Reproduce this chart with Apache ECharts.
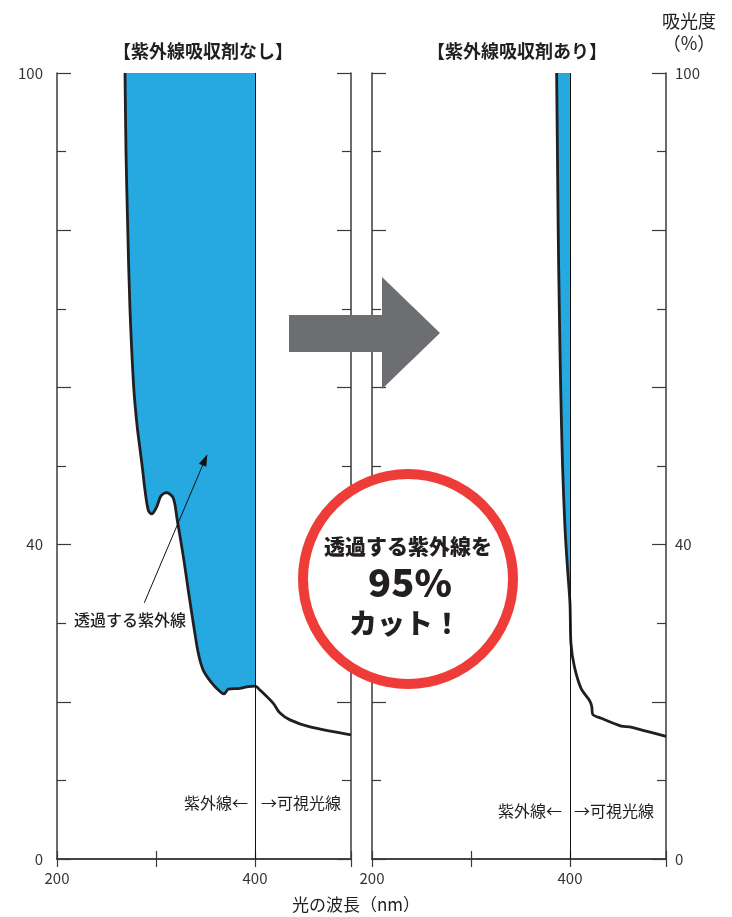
<!DOCTYPE html>
<html>
<head>
<meta charset="utf-8">
<script src="https://cdn.jsdelivr.net/npm/echarts@6/dist/echarts.min.js"></script>
<style>
html,body{margin:0;padding:0;background:#fff;}
#c{width:732px;height:917px;}
</style>
</head>
<body>
<div id="c"></div>
<script>
// ---- data ----
const leftWave = [268.7, 269.7, 271.5, 273.7, 277.5, 281, 284, 286.5, 288.9, 292.2, 295.6, 300.7, 305, 310.8, 317.5, 321.5, 327.6, 332.6, 337.7, 342.7, 347.8, 356.3, 364.6, 368.7, 373.1, 384.8, 391.6, 400, 405, 418.5, 425, 435.4, 455.6, 497];
const leftAbs  = [100, 90, 80, 70, 60, 55, 52, 49.5, 46.9, 44.4, 43.9, 44.8, 46.2, 46.6, 45.9, 43.1, 38.5, 34.2, 30.0, 26.2, 24.0, 22.4, 21.3, 21.0, 21.6, 21.7, 21.9, 22.0, 21.5, 19.8, 18.6, 17.7, 16.8, 15.8];
const rightWave = [386.5, 387.3, 388.1, 389.2, 390.6, 392.5, 395, 397.5, 400, 401, 404.4, 411.2, 419.6, 422.0, 423.0, 431.5, 451.8, 460.2, 478.9, 497];
const rightAbs  = [100, 90, 80, 70, 60, 50, 42, 37, 32.5, 27.4, 24.5, 21.7, 20.2, 19.4, 18.4, 17.9, 16.9, 16.8, 16.2, 15.6];
const xTickLabels = [200, 400];
const yTickLabels = [0, 40, 100];
const boundaryNm = 400;

const FONT = '"Noto Sans CJK JP", "Noto Sans", sans-serif';
const AX = '#3a3a3a';
const BLUE = '#26A8E0';
const LINE = '#231F20';

function pairs(w, a, maxX) {
  const out = [];
  for (let i = 0; i < w.length; i++) if (maxX === undefined || w[i] <= maxX) out.push([w[i], a[i]]);
  return out;
}

function xAxes(gridIndex) {
  const base = {
    type: 'value', gridIndex: gridIndex, min: 200, max: 497, interval: 100,
    splitLine: {show: false},
    axisLine: {show: true, lineStyle: {color: AX, width: 1.5}},
    axisTick: {show: true, inside: true, length: 8, lineStyle: {color: AX, width: 1.2}}
  };
  return [
    Object.assign({}, base, {position: 'bottom',
      axisLabel: {show: true, margin: 12, fontSize: 15, color: '#333', fontFamily: FONT,
        formatter: v => xTickLabels.indexOf(v) >= 0 ? String(v) : ''}}),
    Object.assign({}, base, {position: 'top', axisLabel: {show: false}})
  ];
}
function yAxes(gridIndex, labelSide) {
  const base = {
    type: 'value', gridIndex: gridIndex, min: 0, max: 100, interval: 20,
    splitLine: {show: false},
    axisLine: {show: true, lineStyle: {color: AX, width: 1.5}},
    axisTick: {show: true, inside: true, length: 14, lineStyle: {color: AX, width: 1.2}},
    minorTick: {show: true, splitNumber: 2, length: 9, lineStyle: {color: AX, width: 1.2}},
    minorSplitLine: {show: false}
  };
  const lab = {show: true, margin: labelSide === 'left' ? 14 : 9, fontSize: 15, color: '#333', fontFamily: FONT,
    formatter: v => yTickLabels.indexOf(v) >= 0 ? String(v) : ''};
  return [
    Object.assign({}, base, {position: 'left', axisLabel: labelSide === 'left' ? lab : {show: false}}),
    Object.assign({}, base, {position: 'right', axisLabel: labelSide === 'right' ? lab : {show: false}})
  ];
}

const boundaryLine = {
  silent: true, symbol: 'none', label: {show: false},
  lineStyle: {color: '#111', width: 1, type: 'solid'},
  data: [{xAxis: boundaryNm}]
};

const option = {
  animation: false,
  backgroundColor: '#fff',
  grid: [
    {left: 57, top: 73, width: 294, height: 786},
    {left: 372, top: 73, width: 294, height: 786}
  ],
  xAxis: [].concat(xAxes(0), xAxes(1)),
  yAxis: [].concat(yAxes(0, 'left'), yAxes(1, 'right')),
  series: [
    {type: 'line', xAxisIndex: 0, yAxisIndex: 0, data: pairs(leftWave, leftAbs, boundaryNm),
      smooth: 0.3, symbol: 'none', lineStyle: {width: 0}, areaStyle: {color: BLUE, opacity: 1, origin: 'end'}, z: 2},
    {type: 'line', xAxisIndex: 0, yAxisIndex: 0, data: pairs(leftWave, leftAbs),
      smooth: 0.3, symbol: 'none', lineStyle: {color: LINE, width: 2.8}, z: 4,
      markLine: {
        silent: true, symbol: 'none', label: {show: false},
        lineStyle: {color: '#111', width: 1, type: 'solid'},
        data: [
          {xAxis: boundaryNm},
          [{coord: [288.2, 32.6], symbol: 'none'}, {coord: [349.5, 50.8], symbol: 'triangle', symbolSize: [8, 12]}]
        ]
      }},
    {type: 'line', xAxisIndex: 2, yAxisIndex: 2, data: pairs(rightWave, rightAbs, boundaryNm),
      smooth: 0.3, symbol: 'none', lineStyle: {width: 0}, areaStyle: {color: BLUE, opacity: 1, origin: 'end'}, z: 2},
    {type: 'line', xAxisIndex: 2, yAxisIndex: 2, data: pairs(rightWave, rightAbs),
      smooth: 0.3, symbol: 'none', lineStyle: {color: LINE, width: 2.8}, z: 4,
      markLine: boundaryLine}
  ],
  graphic: [
    {type: 'text', x: 203, y: 51, style: {text: '【紫外線吸収剤なし】', font: 'bold 18px ' + FONT, fill: '#231F20', textAlign: 'center', textVerticalAlign: 'middle'}},
    {type: 'text', x: 517, y: 51, style: {text: '【紫外線吸収剤あり】', font: 'bold 18px ' + FONT, fill: '#231F20', textAlign: 'center', textVerticalAlign: 'middle'}},
    {type: 'text', x: 689, y: 21, style: {text: '吸光度', font: '18px ' + FONT, fill: '#231F20', textAlign: 'center', textVerticalAlign: 'middle'}},
    {type: 'text', x: 689, y: 43, style: {text: '（%）', font: '18px ' + FONT, fill: '#231F20', textAlign: 'center', textVerticalAlign: 'middle'}},
    {type: 'text', x: 356, y: 905, style: {text: '光の波長（nm）', font: '17px ' + FONT, fill: '#231F20', textAlign: 'center', textVerticalAlign: 'middle'}},
    {type: 'text', x: 130, y: 620, style: {text: '透過する紫外線', font: '500 16px ' + FONT, fill: '#231F20', textAlign: 'center', textVerticalAlign: 'middle'}},
    {type: 'text', x: 248, y: 803, style: {text: '紫外線←', font: '16px ' + FONT, fill: '#231F20', textAlign: 'right', textVerticalAlign: 'middle'}},
    {type: 'text', x: 261, y: 803, style: {text: '→可視光線', font: '16px ' + FONT, fill: '#231F20', textAlign: 'left', textVerticalAlign: 'middle'}},
    {type: 'text', x: 562, y: 811, style: {text: '紫外線←', font: '16px ' + FONT, fill: '#231F20', textAlign: 'right', textVerticalAlign: 'middle'}},
    {type: 'text', x: 574, y: 811, style: {text: '→可視光線', font: '16px ' + FONT, fill: '#231F20', textAlign: 'left', textVerticalAlign: 'middle'}},
    {type: 'polygon', z: 100, shape: {points: [[289, 315], [382, 315], [382, 277], [440, 333], [382, 389], [382, 352], [289, 352]]}, style: {fill: '#6D6E71'}},
    {type: 'circle', z: 100, shape: {cx: 408, cy: 579, r: 105}, style: {fill: '#fff', stroke: '#EE3D38', lineWidth: 10}},
    {type: 'text', z: 101, x: 408, y: 546, style: {text: '透過する紫外線を', font: '900 21px ' + FONT, fill: '#231F20', textAlign: 'center', textVerticalAlign: 'middle'}},
    {type: 'text', z: 101, x: 410, y: 583, style: {text: '95%', font: '900 38px ' + FONT, fill: '#231F20', textAlign: 'center', textVerticalAlign: 'middle'}},
    {type: 'text', z: 101, x: 405, y: 623, style: {text: 'カット！', font: '900 28px ' + FONT, fill: '#231F20', textAlign: 'center', textVerticalAlign: 'middle'}}
  ]
};

const chart = echarts.init(document.getElementById('c'), null, {renderer: 'canvas'});
chart.setOption(option);
</script>
</body>
</html>
